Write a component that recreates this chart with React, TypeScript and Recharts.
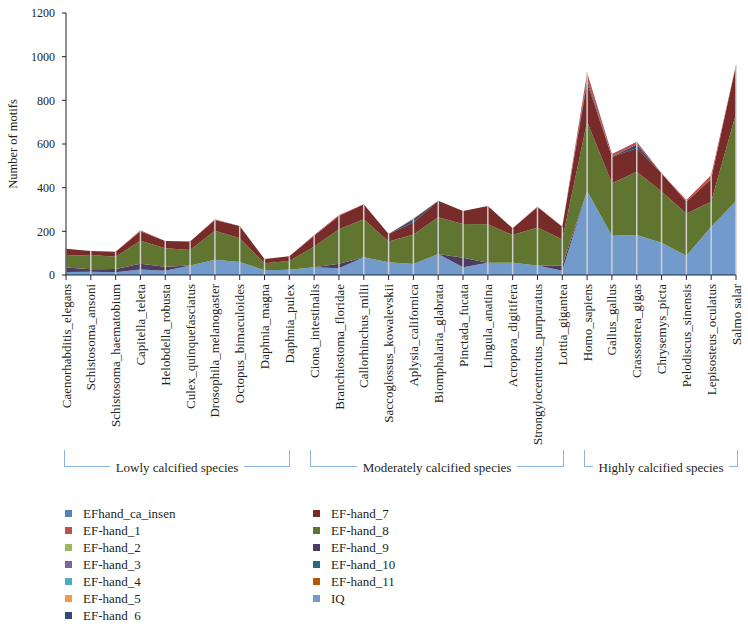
import React from 'react';
import { AreaChart, Area, XAxis, YAxis, ReferenceLine } from 'recharts';

const species = [
  'Caenorhabditis_elegans', 'Schistosoma_ansoni', 'Schistosoma_haematobium', 'Capitella_teleta',
  'Helobdella_robusta', 'Culex_quinquefasciatus', 'Drosophila_melanogaster', 'Octopus_bimaculoides',
  'Daphnia_magna', 'Daphnia_pulex', 'Ciona_intestinalis', 'Branchiostoma_floridae', 'Callorhinchus_milii',
  'Saccoglossus_kowalevskii', 'Aplysia_californica', 'Biomphalaria_glabrata', 'Pinctada_fucata',
  'Lingula_anatina', 'Acropora_digitifera', 'Strongylocentrotus_purpuratus', 'Lottia_gigantea',
  'Homo_sapiens', 'Gallus_gallus', 'Crassostrea_gigas', 'Chrysemys_picta', 'Pelodiscus_sinensis',
  'Lepisosteus_oculatus', 'Salmo  salar',
];

const iq = [14, 15, 13, 25, 20, 44, 70, 60, 22, 24, 35, 31, 81, 58, 50, 96, 35, 56, 56, 43, 20, 385, 180, 183, 148, 88, 221, 339];
const efHand11 = [0, 0, 0, 0, 0, 0, 0, 0, 0, 0, 0, 0, 0, 0, 0, 0, 0, 0, 0, 0, 0, 0, 0, 0, 0, 0, 0, 0];
const efHand10 = [0, 0, 0, 0, 0, 0, 0, 0, 0, 0, 0, 0, 0, 0, 0, 0, 0, 0, 0, 0, 0, 0, 0, 0, 0, 0, 0, 0];
const efHand9 = [20, 11, 14, 27, 18, 0, 0, 0, 0, 0, 0, 20, 0, 0, 0, 0, 44, 0, 0, 0, 23, 0, 0, 0, 0, 0, 0, 0];
const efHand8 = [54, 66, 57, 105, 84, 71, 133, 108, 32, 40, 95, 158, 174, 95, 135, 168, 155, 176, 127, 175, 120, 317, 240, 290, 234, 194, 115, 401];
const efHand7 = [32, 18, 23, 43, 34, 39, 49, 56, 19, 22, 50, 61, 69, 35, 55, 76, 59, 84, 31, 93, 58, 178, 122, 107, 84, 54, 104, 222];
const efHand6 = [0, 0, 0, 0, 0, 0, 0, 0, 0, 0, 0, 0, 0, 0, 15, 0, 0, 0, 0, 0, 0, 15, 0, 18, 0, 0, 0, 0];
const efHand5 = [0, 0, 0, 0, 0, 0, 0, 0, 0, 0, 0, 0, 0, 0, 0, 0, 0, 0, 0, 0, 0, 0, 0, 0, 0, 0, 0, 0];
const efHand4 = [0, 0, 0, 0, 0, 0, 0, 0, 0, 0, 0, 0, 0, 0, 0, 0, 0, 0, 0, 0, 0, 0, 0, 0, 0, 0, 0, 0];
const efHand3 = [0, 0, 0, 0, 0, 0, 0, 0, 0, 0, 0, 0, 0, 0, 0, 0, 0, 0, 0, 0, 0, 0, 0, 0, 0, 0, 0, 0];
const efHand2 = [0, 0, 0, 0, 0, 0, 0, 0, 0, 0, 0, 0, 0, 0, 0, 0, 0, 0, 0, 0, 0, 0, 0, 0, 0, 0, 0, 0];
const efHand1 = [0, 0, 0, 5, 0, 0, 3, 0, 0, 0, 3, 5, 0, 0, 4, 0, 0, 0, 0, 3, 0, 32, 12, 12, 0, 7, 18, 0];
const efHandCaInsen = [0, 0, 0, 0, 0, 0, 0, 0, 0, 0, 0, 0, 0, 0, 0, 0, 0, 0, 0, 0, 0, 0, 0, 0, 0, 0, 0, 0];

const yTicks = [0, 200, 400, 600, 800, 1000, 1200];

const groups = [
  { label: 'Lowly calcified species', left: 64, right: 290 },
  { label: 'Moderately calcified species', left: 310, right: 564 },
  { label: 'Highly calcified species', left: 584, right: 738 },
];

// bottom of stack first
const SERIES = [
  { key: 'IQ', color: '#729aca', values: iq },
  { key: 'EF-hand_11', color: '#b65708', values: efHand11 },
  { key: 'EF-hand_10', color: '#276a7c', values: efHand10 },
  { key: 'EF-hand_9', color: '#4d3b62', values: efHand9 },
  { key: 'EF-hand_8', color: '#5f7530', values: efHand8 },
  { key: 'EF-hand_7', color: '#772c2a', values: efHand7 },
  { key: 'EF-hand_6', color: '#2c4d75', values: efHand6 },
  { key: 'EF-hand_5', color: '#f79646', values: efHand5 },
  { key: 'EF-hand_4', color: '#4bacc6', values: efHand4 },
  { key: 'EF-hand_3', color: '#8064a2', values: efHand3 },
  { key: 'EF-hand_2', color: '#9bbb59', values: efHand2 },
  { key: 'EF-hand_1', color: '#c0504d', values: efHand1 },
  { key: 'EFhand_ca_insen', color: '#4f81bd', values: efHandCaInsen },
];

const legendLeft = ['EFhand_ca_insen', 'EF-hand_1', 'EF-hand_2', 'EF-hand_3', 'EF-hand_4', 'EF-hand_5', 'EF-hand_6'];
const legendRight = ['EF-hand_7', 'EF-hand_8', 'EF-hand_9', 'EF-hand_10', 'EF-hand_11', 'IQ'];
const legendLabels: Record<string, string> = { 'EF-hand_6': 'EF-hand  6' };

const data = species.map((name, i) => {
  const row: Record<string, number | string> = { name };
  let total = 0;
  SERIES.forEach(s => {
    row[s.key] = s.values[i];
    total += s.values[i];
  });
  row.total = total;
  return row;
});

const FONT = '"Liberation Serif", "DejaVu Serif", serif';
const TEXT = '#231f20';
const colorOf = (k: string) => SERIES.find(s => s.key === k)!.color;

const SpeciesTick = (props: any) => {
  const { x, y, payload } = props;
  return (
    <g transform={`translate(${x},${y})`}>
      <text transform="rotate(-90)" textAnchor="end" dy="0.35em" fontSize={13} fontFamily={FONT} fill={TEXT}>
        {payload.value}
      </text>
    </g>
  );
};

const LegendColumn = ({ keys, left }: { keys: string[]; left: number }) => (
  <div style={{ position: 'absolute', left, top: 505 }}>
    {keys.map(k => (
      <div key={k} style={{ display: 'flex', alignItems: 'center', height: 17 }}>
        <span style={{ width: 7, height: 7, background: colorOf(k), marginRight: 11 }} />
        <span style={{ fontSize: 13, fontFamily: FONT, color: TEXT, whiteSpace: 'pre' }}>{legendLabels[k] || k}</span>
      </div>
    ))}
  </div>
);

export default function App() {
  return (
    <div style={{ position: 'absolute', left: 0, top: 0, width: 748, height: 630, background: '#fff' }}>
      <AreaChart width={748} height={470} data={data} margin={{ top: 13, right: 12, left: 0, bottom: 0 }}>
        <XAxis
          dataKey="name"
          scale="point"
          interval={0}
          height={195}
          tick={<SpeciesTick />}
          tickSize={5}
          tickMargin={4}
          axisLine={{ stroke: '#1f2a44' }}
          tickLine={{ stroke: '#1f2a44' }}
        />
        <YAxis
          domain={[0, 1200]}
          ticks={yTicks}
          width={66}
          tickSize={4}
          tickMargin={7}
          axisLine={{ stroke: TEXT }}
          tickLine={{ stroke: TEXT }}
          tick={{ fontSize: 12, fontFamily: FONT, fill: TEXT }}
        />
        {SERIES.map(s => (
          <Area
            key={s.key}
            type="linear"
            dataKey={s.key}
            stackId="motifs"
            fill={s.color}
            fillOpacity={1}
            stroke="none"
            isAnimationActive={false}
          />
        ))}
        {data.map(d => (
          <ReferenceLine
            key={`drop-${d.name}`}
            segment={[{ x: d.name, y: 0 }, { x: d.name, y: d.total as number }]}
            stroke="#cfcfcf"
            strokeWidth={1.5}
          />
        ))}
      </AreaChart>

      <svg width={748} height={630} style={{ position: 'absolute', left: 0, top: 0, pointerEvents: 'none' }}>
        <text
          transform="translate(17,144) rotate(-90)"
          textAnchor="middle"
          fontSize={12.5}
          fontFamily={FONT}
          fill={TEXT}
        >
          Number of motifs
        </text>
      </svg>

      {groups.map(g => (
        <div
          key={g.label}
          style={{
            position: 'absolute',
            left: g.left,
            top: 450,
            width: g.right - g.left,
            height: 17,
            borderLeft: '1px solid #8db3e2',
            borderRight: '1px solid #8db3e2',
            borderBottom: '1px solid #8db3e2',
            boxSizing: 'border-box',
          }}
        >
          <div
            style={{
              position: 'absolute',
              left: 0,
              right: 0,
              top: 8,
              textAlign: 'center',
            }}
          >
            <span
              style={{
                background: '#fff',
                padding: '0 6px',
                fontSize: 13,
                fontFamily: FONT,
                color: TEXT,
                lineHeight: '17px',
              }}
            >
              {g.label}
            </span>
          </div>
        </div>
      ))}

      <LegendColumn keys={legendLeft} left={65} />
      <LegendColumn keys={legendRight} left={313} />
    </div>
  );
}
